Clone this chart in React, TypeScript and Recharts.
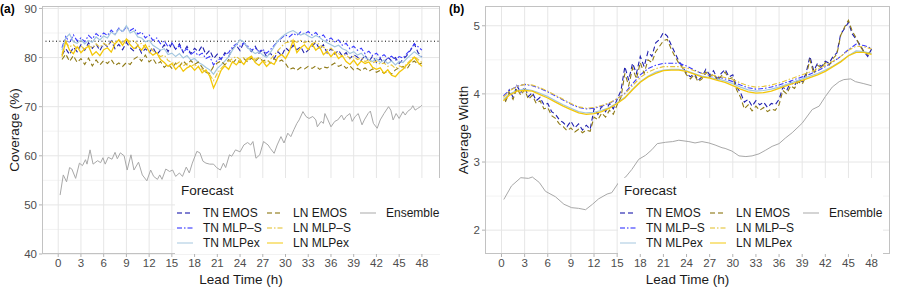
import React from 'react';
import { LineChart, Line, XAxis, YAxis, CartesianGrid, ReferenceLine } from 'recharts';

// lead times: half-hourly for the jagged series, hourly for the smooth ones
const halfHours = Array.from({ length: 96 }, (_, i) => (i + 1) / 2);
const wholeHours = [0.25, ...Array.from({ length: 48 }, (_, i) => i + 1)];
const leadTicks = [0, 3, 6, 9, 12, 15, 18, 21, 24, 27, 30, 33, 36, 39, 42, 45, 48];

const covTicks = [40, 50, 60, 70, 80, 90];
const covMinor = [45, 55, 65, 75, 85];
const nominalCoverage = 83.33;
const widthTicks = [2, 3, 4, 5];
const widthMinor = [2.5, 3.5, 4.5];

// (a) coverage, half-hourly
const covTnEmos = [
  80.5, 81.8, 80.6, 82.1, 81.2, 82.6, 81.5, 83.0, 81.9, 82.8, 81.4, 82.9,
  82.2, 83.4, 81.8, 82.7, 81.6, 83.1, 82.0, 81.3, 82.5, 80.9, 81.8, 81.0,
  82.1, 80.6, 81.5, 82.6, 81.2, 82.9, 81.7, 82.8, 81.0, 82.3, 80.8, 81.9,
  81.2, 82.4, 80.6, 81.5, 79.8, 80.7, 79.6, 81.0, 80.2, 81.8, 82.5, 81.4,
  83.1, 82.0, 81.2, 82.3, 80.9, 81.6, 80.2, 80.9, 79.8, 81.2, 80.4, 82.0,
  81.3, 82.5, 81.6, 82.2, 80.8, 81.5, 82.3, 83.1, 81.7, 82.6, 80.9, 81.8,
  80.7, 81.5, 80.3, 81.0, 79.8, 80.6, 80.1, 79.4, 80.5, 79.2, 80.3, 79.0,
  79.8, 78.9, 80.1, 79.3, 80.0, 78.8, 79.6, 80.4, 81.5, 82.8, 81.0, 80.2,
];
const covTnMlps = [
  82.0, 84.3, 83.0, 84.6, 83.4, 84.0, 83.2, 84.5, 83.8, 84.9, 84.2, 85.0,
  84.5, 85.6, 84.8, 86.0, 85.2, 86.3, 85.5, 86.0, 84.8, 85.2, 84.0, 84.6,
  83.5, 84.0, 82.8, 83.4, 82.2, 83.0, 81.8, 82.4, 81.2, 81.8, 80.6, 81.2,
  80.4, 80.9, 79.8, 80.2, 78.5, 79.5, 79.8, 80.6, 81.0, 82.2, 82.8, 82.3,
  83.0, 82.4, 81.5, 82.0, 81.2, 81.7, 80.9, 81.6, 82.5, 83.3, 84.0, 84.6,
  84.2, 84.9, 84.5, 85.2, 84.8, 85.3, 84.6, 85.1, 84.2, 84.6, 83.5, 84.0,
  83.2, 83.6, 82.5, 82.9, 81.8, 82.3, 81.5, 81.9, 80.8, 81.3, 80.4, 80.9,
  80.0, 80.6, 79.8, 80.3, 79.5, 80.2, 79.9, 80.8, 81.6, 82.8, 82.2, 81.5,
];
const covTnMlpex = [
  81.5, 84.0, 84.8, 83.2, 82.9, 83.6, 82.8, 83.5, 83.1, 84.2, 83.6, 84.4,
  84.0, 85.2, 84.6, 85.8, 85.3, 86.5, 85.0, 85.4, 84.2, 84.0, 83.2, 83.5,
  82.5, 82.0, 81.5, 81.8, 80.6, 80.9, 80.2, 80.8, 79.9, 80.4, 79.5, 79.8,
  79.0, 78.6, 78.0, 77.5, 76.6, 77.8, 78.5, 79.3, 80.2, 81.5, 82.6, 83.6,
  83.2, 82.0, 81.4, 80.8, 81.2, 80.5, 80.0, 81.0, 82.2, 83.4, 84.2, 84.8,
  85.2, 85.5, 85.0, 84.6, 84.9, 84.4, 84.0, 84.5, 84.1, 83.5, 83.0, 82.6,
  82.2, 82.5, 81.8, 81.5, 80.8, 81.2, 80.5, 80.9, 80.0, 79.6, 79.2, 79.8,
  79.0, 79.5, 78.8, 79.3, 78.5, 79.2, 79.0, 79.8, 80.5, 81.2, 80.6, 80.0,
];
const covLnEmos = [
  79.6, 80.7, 79.2, 80.4, 79.0, 79.8, 78.6, 79.9, 78.3, 79.5, 78.5, 79.4,
  78.8, 79.6, 78.4, 78.9, 78.2, 79.0, 78.6, 79.7, 80.2, 79.3, 80.5, 79.1,
  79.8, 78.6, 79.2, 78.0, 78.7, 77.8, 78.9, 78.2, 79.3, 78.5, 79.4, 78.6,
  79.1, 78.0, 77.0, 76.8, 78.2, 78.9, 79.3, 78.5, 79.6, 78.8, 79.7, 79.0,
  79.8, 79.1, 79.9, 79.2, 80.0, 79.3, 79.6, 78.9, 79.8, 79.1, 79.5, 78.8,
  77.6, 77.9, 77.4, 78.0, 77.7, 78.2, 77.8, 78.3, 77.6, 78.1, 77.9, 78.4,
  78.9, 78.2, 78.6, 77.8, 78.3, 77.5, 77.8, 77.3, 77.9, 77.2, 77.7, 77.0,
  77.4, 76.8, 77.3, 76.6, 77.5, 77.9, 78.2, 77.6, 78.8, 79.3, 78.6, 78.9,
];
const covLnMlps = [
  80.8, 83.0, 82.2, 82.6, 81.8, 82.4, 81.6, 82.5, 81.9, 82.8, 82.1, 82.9,
  82.4, 83.3, 82.8, 83.6, 83.0, 83.8, 83.2, 83.5, 82.6, 82.9, 82.0, 82.3,
  81.4, 81.0, 80.2, 80.5, 79.4, 79.0, 78.6, 79.1, 78.3, 78.8, 78.2, 78.6,
  78.0, 77.6, 77.0, 76.5, 75.3, 76.8, 77.8, 78.6, 79.2, 79.8, 80.2, 79.6,
  80.0, 79.5, 80.2, 79.6, 80.1, 79.2, 79.0, 79.6, 80.5, 81.4, 82.3, 83.0,
  83.2, 83.6, 83.1, 83.5, 83.0, 83.4, 82.8, 83.2, 82.6, 82.1, 81.6, 81.9,
  81.2, 80.8, 80.3, 80.6, 79.8, 80.2, 79.6, 79.9, 79.2, 79.5, 78.9, 79.3,
  78.6, 78.9, 78.2, 78.5, 77.8, 78.3, 78.0, 78.7, 79.5, 80.2, 79.6, 79.0,
];
const covLnMlpex = [
  80.2, 83.3, 81.5, 80.8, 82.2, 81.0, 81.8, 82.3, 80.5, 81.2, 80.4, 81.6,
  82.0, 81.1, 82.8, 83.6, 82.5, 83.8, 82.6, 81.8, 82.4, 81.5, 82.6, 81.2,
  80.5, 81.0, 79.6, 79.0, 78.2, 78.8, 77.6, 78.4, 77.2, 77.9, 78.3, 77.4,
  78.2, 76.9, 77.5, 76.2, 73.8, 75.5, 77.4, 78.3, 77.6, 79.2, 78.5, 79.4,
  78.6, 79.8, 80.3, 79.0, 78.4, 79.3, 78.2, 79.0, 78.6, 80.1, 80.6, 79.8,
  81.2, 83.5, 81.0, 82.0, 82.6, 81.6, 82.8, 81.5, 82.2, 80.6, 81.3, 80.2,
  81.1, 79.8, 80.4, 79.2, 78.6, 79.5, 78.4, 79.3, 78.8, 79.1, 78.0, 77.6,
  77.9, 76.8, 77.5, 76.4, 76.1, 77.0, 77.6, 78.5, 79.2, 80.1, 79.0, 78.2,
];
// ensemble coverage as [lead time, value]
const covEnsemble: [number, number][] = [
  [0.25, 52.0], [0.67, 56.1], [1.1, 54.7], [1.5, 57.6], [1.8, 57.3], [2.3, 55.4], [2.8, 58.5],
  [3.2, 58.0], [3.6, 59.2], [3.8, 58.3], [4.2, 61.2], [4.6, 58.3], [5.2, 59.0], [5.6, 58.6],
  [5.9, 59.6], [6.2, 58.3], [6.6, 59.7], [7.1, 59.3], [7.5, 60.7], [7.8, 59.4], [8.2, 60.6],
  [8.7, 60.0], [9.1, 57.1], [9.6, 60.2], [10.0, 57.1], [10.6, 58.7], [11.1, 56.1], [11.7, 54.9],
  [12.2, 57.1], [12.6, 55.8], [13.1, 55.2], [13.4, 56.1], [13.7, 55.2], [14.2, 57.3], [14.7, 56.8],
  [15.1, 57.1], [15.5, 55.8], [16.0, 56.5], [16.4, 55.8], [16.9, 57.7], [17.3, 56.5], [17.7, 58.5],
  [18.3, 60.9], [18.7, 60.6], [19.1, 58.9], [19.5, 58.5], [20.0, 58.3], [20.5, 58.3], [20.9, 57.6],
  [21.4, 57.1], [21.8, 58.5], [22.1, 57.6], [22.6, 60.2], [22.9, 59.9], [23.4, 61.2], [24.0, 60.8],
  [24.5, 62.2], [25.0, 62.7], [25.4, 62.2], [25.7, 62.9], [26.1, 59.5], [26.6, 60.2], [27.1, 62.9],
  [27.7, 62.2], [28.0, 61.5], [28.5, 60.5], [28.9, 62.2], [29.4, 63.9], [29.8, 62.6], [30.3, 64.6],
  [30.7, 63.9], [31.1, 65.3], [31.5, 66.6], [31.8, 67.3], [32.3, 69.0], [32.7, 68.0], [33.1, 67.6],
  [33.6, 68.0], [34.0, 67.3], [34.2, 65.9], [34.7, 67.0], [35.0, 66.6], [35.2, 68.6], [35.6, 67.3],
  [36.0, 65.9], [36.5, 67.0], [36.9, 67.3], [37.4, 68.3], [37.7, 67.3], [38.0, 68.0], [38.5, 68.6],
  [38.8, 67.0], [39.2, 68.0], [39.6, 68.6], [40.1, 66.3], [40.4, 67.3], [40.9, 68.6], [41.2, 69.1],
  [41.6, 66.6], [42.1, 65.6], [42.5, 67.3], [43.0, 68.6], [43.6, 70.0], [43.9, 69.3], [44.2, 67.3],
  [44.6, 68.6], [45.0, 67.6], [45.5, 69.0], [45.8, 68.3], [46.1, 69.0], [46.6, 69.6], [46.8, 70.2],
  [47.1, 69.3], [47.4, 69.6], [47.8, 70.0], [48.0, 70.3],
];

// (b) average width
const widTnEmos = [
  3.90, 4.06, 3.95, 4.12, 4.02, 4.10, 3.96, 4.02, 3.90, 3.95, 3.84, 3.86,
  3.74, 3.70, 3.62, 3.58, 3.52, 3.60, 3.50, 3.56, 3.47, 3.54, 3.48, 3.78,
  3.70, 3.82, 3.74, 3.86, 3.78, 3.92, 4.05, 4.40, 4.20, 4.45, 4.30, 4.55,
  4.40, 4.62, 4.55, 4.75, 4.80, 4.90, 4.85, 4.72, 4.60, 4.48, 4.40, 4.30,
  4.25, 4.30, 4.20, 4.25, 4.36, 4.28, 4.34, 4.22, 4.30, 4.36, 4.25, 4.28,
  4.10, 4.02, 3.88, 3.92, 3.82, 3.90, 3.84, 3.88, 3.80, 3.86, 3.84, 3.92,
  4.10, 4.05, 4.18, 4.12, 4.22, 4.18, 4.30, 4.55, 4.34, 4.45, 4.40, 4.48,
  4.45, 4.55, 4.60, 4.88, 4.96, 5.05, 4.88, 4.80, 4.72, 4.62, 4.55, 4.66,
];
const widLnEmos = [
  3.88, 4.02, 3.92, 4.08, 3.98, 4.06, 3.92, 3.98, 3.86, 3.90, 3.78, 3.80,
  3.68, 3.64, 3.56, 3.52, 3.46, 3.50, 3.44, 3.48, 3.43, 3.47, 3.45, 3.66,
  3.62, 3.72, 3.66, 3.76, 3.70, 3.84, 3.95, 4.30, 4.12, 4.38, 4.22, 4.46,
  4.30, 4.50, 4.46, 4.62, 4.70, 4.78, 4.80, 4.66, 4.55, 4.45, 4.38, 4.28,
  4.22, 4.28, 4.18, 4.22, 4.32, 4.25, 4.30, 4.20, 4.26, 4.32, 4.22, 4.24,
  4.06, 3.95, 3.78, 3.84, 3.75, 3.82, 3.76, 3.80, 3.74, 3.78, 3.76, 3.84,
  4.05, 4.00, 4.12, 4.08, 4.18, 4.14, 4.26, 4.50, 4.30, 4.42, 4.38, 4.46,
  4.42, 4.52, 4.58, 4.86, 4.98, 5.08, 4.92, 4.82, 4.70, 4.62, 4.58, 4.64,
];
const widTnMlps = [
  3.97, 4.05, 4.11, 4.14, 4.12, 4.08, 4.03, 3.97, 3.91, 3.85, 3.80, 3.78, 3.79,
  3.82, 3.86, 3.93, 4.01, 4.15, 4.28, 4.37, 4.42, 4.45, 4.45, 4.45, 4.41,
  4.35, 4.30, 4.27, 4.25, 4.22, 4.18, 4.13, 4.09, 4.07, 4.08, 4.10, 4.13,
  4.17, 4.21, 4.25, 4.29, 4.34, 4.40, 4.47, 4.55, 4.65, 4.73, 4.71, 4.67,
];
const widLnMlps = [
  3.95, 4.04, 4.11, 4.14, 4.13, 4.09, 4.04, 3.98, 3.92, 3.86, 3.81, 3.79, 3.80,
  3.83, 3.87, 3.93, 4.00, 4.12, 4.24, 4.32, 4.37, 4.40, 4.40, 4.40, 4.38,
  4.34, 4.30, 4.28, 4.26, 4.24, 4.21, 4.16, 4.12, 4.10, 4.11, 4.13, 4.16,
  4.20, 4.24, 4.28, 4.32, 4.36, 4.42, 4.48, 4.55, 4.64, 4.70, 4.69, 4.66,
];
const widTnMlpex = [
  3.92, 4.00, 4.05, 4.07, 4.05, 4.01, 3.96, 3.90, 3.84, 3.79, 3.74, 3.72, 3.73,
  3.76, 3.80, 3.87, 3.95, 4.07, 4.18, 4.26, 4.32, 4.35, 4.36, 4.36, 4.34,
  4.30, 4.26, 4.24, 4.22, 4.19, 4.15, 4.10, 4.06, 4.04, 4.05, 4.07, 4.10,
  4.14, 4.18, 4.22, 4.26, 4.30, 4.35, 4.41, 4.48, 4.56, 4.63, 4.62, 4.59,
];
const widLnMlpex = [
  3.90, 3.98, 4.04, 4.05, 4.04, 3.99, 3.94, 3.88, 3.82, 3.77, 3.72, 3.70, 3.71,
  3.74, 3.79, 3.86, 3.94, 4.06, 4.17, 4.25, 4.30, 4.34, 4.35, 4.35, 4.33,
  4.29, 4.25, 4.23, 4.20, 4.17, 4.12, 4.07, 4.03, 4.01, 4.02, 4.04, 4.08,
  4.12, 4.16, 4.20, 4.24, 4.28, 4.33, 4.40, 4.47, 4.56, 4.61, 4.61, 4.58,
];
const widEnsemble: [number, number][] = [
  [0.3, 2.45], [1.3, 2.65], [2.5, 2.77], [3.5, 2.76], [4.0, 2.78], [4.9, 2.70], [5.7, 2.57],
  [7.0, 2.49], [8.1, 2.38], [9.1, 2.33], [10.0, 2.32], [10.9, 2.30], [11.8, 2.38], [12.6, 2.46],
  [13.7, 2.53], [14.3, 2.55], [15.2, 2.70], [16.1, 2.78], [16.9, 2.89], [17.8, 3.04], [18.7, 3.10],
  [19.5, 3.18], [20.2, 3.27], [21.3, 3.29], [22.2, 3.30], [23.0, 3.32], [24.3, 3.30], [25.1, 3.28],
  [26.0, 3.30], [26.9, 3.28], [27.7, 3.25], [28.6, 3.21], [29.0, 3.20], [29.9, 3.16], [30.8, 3.09],
  [31.7, 3.08], [32.5, 3.09], [33.4, 3.12], [34.2, 3.17], [35.1, 3.23], [36.0, 3.27], [36.8, 3.35],
  [37.7, 3.43], [39.0, 3.57], [40.3, 3.77], [41.2, 3.82], [42.0, 3.96], [42.9, 4.10], [43.8, 4.18],
  [44.4, 4.21], [45.3, 4.22], [45.9, 4.18], [47.0, 4.15], [48.0, 4.12],
];

const toPoints = (hours: number[], values: number[]) => hours.map((t, i) => ({ t, v: values[i] }));
const pairPoints = (pairs: [number, number][]) => pairs.map(([t, v]) => ({ t, v }));

type Series = { name: string; color: string; dash?: string; width: number };
const styles: Record<string, Series> = {
  tnEmos: { name: 'TN EMOS', color: '#1f1fae', dash: '5 3', width: 1.1 },
  tnMlps: { name: 'TN MLP\u2013S', color: '#3a3aff', dash: '5 2 1.5 2', width: 1.1 },
  tnMlpex: { name: 'TN MLPex', color: '#a3c6df', width: 1.2 },
  lnEmos: { name: 'LN EMOS', color: '#8f7a16', dash: '5 3', width: 1.1 },
  lnMlps: { name: 'LN MLP\u2013S', color: '#e6c53c', dash: '5 2 1.5 2', width: 1.1 },
  lnMlpex: { name: 'LN MLPex', color: '#f3c70a', width: 1.3 },
  ensemble: { name: 'Ensemble', color: '#a8a8a8', width: 1 },
};

const font = '"Liberation Sans", Arial, sans-serif';
const xDomain: [number, number] = [-2.14, 50.39];

const seriesLine = (key: string, data: { t: number; v: number }[]) => {
  const s = styles[key];
  return (
    <Line
      key={key}
      data={data}
      dataKey="v"
      type="linear"
      stroke={s.color}
      strokeWidth={s.width}
      strokeDasharray={s.dash}
      dot={false}
      activeDot={false}
      isAnimationActive={false}
    />
  );
};

const legendOrder = [
  ['tnEmos', 'lnEmos', 'ensemble'],
  ['tnMlps', 'lnMlps', ''],
  ['tnMlpex', 'lnMlpex', ''],
];
const colX = [2, 92, 185];

const Key = ({ k }: { k: string }) => {
  const s = styles[k];
  return (
    <svg width={16} height={6} style={{ position: 'absolute', left: 0, top: 5, opacity: 0.75 }}>
      <line x1={0} y1={3} x2={16} y2={3} stroke={s.color} strokeWidth={1.3} strokeDasharray={s.dash} />
    </svg>
  );
};

const textStyle = { fontFamily: font, fontWeight: 400, color: '#1a1a1a' };

const LegendBox = ({ left }: { left: number }) => (
  <div style={{ position: 'absolute', left, top: 178, width: 265, height: 76, background: '#fff', ...textStyle }}>
    <div style={{ position: 'absolute', left: 6, top: 5, fontSize: 13.5 }}>Forecast</div>
    {legendOrder.map((row, r) =>
      row.map((k, c) =>
        k ? (
          <div key={k} style={{ position: 'absolute', left: colX[c], top: 27 + r * 15, height: 16, width: 90 }}>
            <Key k={k} />
            <span style={{ position: 'absolute', left: 26, top: 0, fontSize: 12, lineHeight: '16px', whiteSpace: 'nowrap' }}>
              {styles[k].name}
            </span>
          </div>
        ) : null
      )
    )}
  </div>
);

const tickStyle = { fill: '#4d4d4d', fontSize: 11.5, fontFamily: font };

const Panel = ({
  left, width, yWidth, yDomain, yTicks, yMinor, children, title, yTitle, tag,
}: any) => (
  <div style={{ position: 'absolute', left, top: 0, width, height: 295 }}>
    <LineChart width={width} height={295} margin={{ top: 6, right: 9, bottom: 0, left: 0 }}>
      <CartesianGrid vertical={false} horizontalValues={yMinor} stroke="#f0f0f0" strokeWidth={0.8} />
      <CartesianGrid verticalValues={leadTicks} horizontalValues={yTicks} stroke="#e6e6e6" strokeWidth={1} />
      <XAxis
        dataKey="t"
        type="number"
        domain={xDomain}
        ticks={leadTicks}
        allowDataOverflow
        height={41}
        tick={tickStyle}
        tickSize={3}
        tickMargin={2}
        axisLine={false}
        tickLine={{ stroke: '#b3b3b3' }}
      />
      <YAxis
        type="number"
        domain={yDomain}
        ticks={yTicks}
        allowDataOverflow
        width={yWidth}
        tick={tickStyle}
        tickSize={3}
        tickMargin={2}
        axisLine={false}
        tickLine={{ stroke: '#b3b3b3' }}
      />
      {children}
    </LineChart>
    <div
      style={{
        position: 'absolute', left: yWidth, top: 6, width: width - yWidth - 9, height: 248,
        border: '1px solid #c2c2c2', boxSizing: 'border-box', pointerEvents: 'none',
      }}
    />
    <LegendBox left={yWidth + 133} />
    <div style={{ position: 'absolute', left: 0, top: 2, fontSize: 12, fontWeight: 'bold', fontFamily: font }}>{tag}</div>
    <div
      style={{
        position: 'absolute', left: 14, top: 130, transform: 'translate(-50%, -50%) rotate(-90deg)',
        fontSize: 13.5, whiteSpace: 'nowrap', ...textStyle,
      }}
    >
      {yTitle}
    </div>
    <div
      style={{
        position: 'absolute', left: yWidth + (width - yWidth - 9) / 2, top: 279, transform: 'translate(-50%, -50%)',
        fontSize: 13.5, whiteSpace: 'nowrap', ...textStyle,
      }}
    >
      {title}
    </div>
  </div>
);

export default function App() {
  return (
    <div style={{ position: 'absolute', left: 0, top: 0, width: 899, height: 295, background: '#fff' }}>
      <Panel left={0} width={449} yWidth={42} yDomain={[40, 90.5]} yTicks={covTicks} yMinor={covMinor}
        title="Lead Time (h)" yTitle="Coverage (%)" tag="(a)">
        <ReferenceLine y={nominalCoverage} stroke="#000" strokeDasharray="1 2.5" strokeWidth={1} />
        {seriesLine('tnEmos', toPoints(halfHours, covTnEmos))}
        {seriesLine('tnMlps', toPoints(halfHours, covTnMlps))}
        {seriesLine('tnMlpex', toPoints(halfHours, covTnMlpex))}
        {seriesLine('lnEmos', toPoints(halfHours, covLnEmos))}
        {seriesLine('lnMlps', toPoints(halfHours, covLnMlps))}
        {seriesLine('lnMlpex', toPoints(halfHours, covLnMlpex))}
        {seriesLine('ensemble', pairPoints(covEnsemble))}
      </Panel>
      <Panel left={449} width={450} yWidth={36} yDomain={[1.65, 5.29]} yTicks={widthTicks} yMinor={widthMinor}
        title="Lead Time (h)" yTitle="Average Width" tag="(b)">
        {seriesLine('tnEmos', toPoints(halfHours, widTnEmos))}
        {seriesLine('tnMlps', toPoints(wholeHours, widTnMlps))}
        {seriesLine('tnMlpex', toPoints(wholeHours, widTnMlpex))}
        {seriesLine('lnEmos', toPoints(halfHours, widLnEmos))}
        {seriesLine('lnMlps', toPoints(wholeHours, widLnMlps))}
        {seriesLine('lnMlpex', toPoints(wholeHours, widLnMlpex))}
        {seriesLine('ensemble', pairPoints(widEnsemble))}
      </Panel>
    </div>
  );
}
